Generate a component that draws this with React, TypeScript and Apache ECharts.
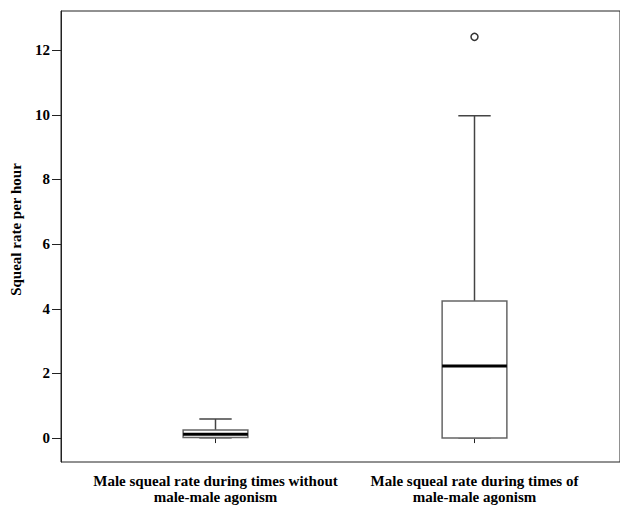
import React, { useEffect, useRef } from "react";
import * as echarts from "echarts";

const categories = [
  "Male squeal rate during times without\nmale-male agonism",
  "Male squeal rate during times of\nmale-male agonism",
];
const minValues = [0, 0];
const q1Values = [0.02, 0];
const medianValues = [0.12, 2.23];
const q3Values = [0.25, 4.24];
const maxValues = [0.59, 9.97];
const outliers: [number, number][] = [[1, 12.41]];
const yTicks = [0, 2, 4, 6, 8, 10, 12];
const yMin = -0.74;
const yMax = 13.21;

const FONT = "'Liberation Serif', 'Times New Roman', serif";

export default function App() {
  const ref = useRef<HTMLDivElement>(null);
  useEffect(() => {
    if (!ref.current) return;
    const chart = echarts.init(ref.current, null, { renderer: "svg" });
    const boxData = categories.map((_, i) => [
      i,
      minValues[i],
      q1Values[i],
      medianValues[i],
      q3Values[i],
      maxValues[i],
    ]);
    chart.setOption({
      animation: false,
      backgroundColor: "#ffffff",
      grid: [
        {
          left: 57,
          right: -3,
          top: 11,
          bottom: 44,
          show: true,
          borderColor: "#222",
          borderWidth: 1,
          backgroundColor: "transparent",
        },
        { left: 86, right: 16, top: 11, bottom: 44 },
      ],
      xAxis: [
        { type: "value", gridIndex: 0, show: false, min: 0, max: 1 },
        {
          type: "category",
          gridIndex: 1,
          data: categories,
          axisLine: { show: false },
          axisTick: {
            show: true,
            alignWithLabel: true,
            length: 5,
            lineStyle: { color: "#222", width: 1 },
          },
          axisLabel: {
            margin: 11,
            color: "#000",
            fontFamily: FONT,
            fontWeight: "bold",
            fontSize: 15,
            lineHeight: 16,
            interval: 0,
          },
          splitLine: { show: false },
        },
      ],
      yAxis: [
        {
          type: "value",
          gridIndex: 0,
          min: yMin,
          max: yMax,
          name: "Squeal rate per hour",
          nameLocation: "middle",
          nameGap: 38,
          nameTextStyle: {
            color: "#000",
            fontFamily: FONT,
            fontWeight: "bold",
            fontSize: 15,
            padding: [0, 0, 0, 14],
          },
          axisLine: { show: true, lineStyle: { color: "#222", width: 1 } },
          axisTick: {
            show: true,
            length: 9,
            customValues: yTicks,
            lineStyle: { color: "#222", width: 1 },
          },
          axisLabel: {
            customValues: yTicks,
            margin: 11,
            color: "#000",
            fontFamily: FONT,
            fontWeight: "bold",
            fontSize: 15,
          },
          splitLine: { show: false },
        },
        { type: "value", gridIndex: 1, min: yMin, max: yMax, show: false },
      ],
      series: [
        {
          type: "custom",
          xAxisIndex: 1,
          yAxisIndex: 1,
          data: boxData,
          encode: { x: 0, y: [1, 2, 3, 4, 5] },
          renderItem: (params: any, api: any) => {
            const i = api.value(0);
            const band = api.size([1, 0])[0];
            const bw = band * 0.25;
            const cw = bw / 2;
            const c = api.coord([i, api.value(1)]);
            const cx = c[0];
            const yMinP = c[1];
            const yQ1 = api.coord([i, api.value(2)])[1];
            const yMed = api.coord([i, api.value(3)])[1];
            const yQ3 = api.coord([i, api.value(4)])[1];
            const yMaxP = api.coord([i, api.value(5)])[1];
            const whisker = { stroke: "#444", lineWidth: 1.5 };
            return {
              type: "group",
              children: [
                { type: "line", shape: { x1: cx, y1: yQ3, x2: cx, y2: yMaxP }, style: whisker },
                { type: "line", shape: { x1: cx, y1: yQ1, x2: cx, y2: yMinP }, style: whisker },
                { type: "line", shape: { x1: cx - cw / 2, y1: yMaxP, x2: cx + cw / 2, y2: yMaxP }, style: whisker },
                { type: "line", shape: { x1: cx - cw / 2, y1: yMinP, x2: cx + cw / 2, y2: yMinP }, style: { stroke: "#777", lineWidth: 1.5 } },
                {
                  type: "rect",
                  shape: { x: cx - bw / 2, y: yQ3, width: bw, height: yQ1 - yQ3 },
                  style: { fill: "#fff", stroke: "#666", lineWidth: 1.5 },
                },
                { type: "line", shape: { x1: cx - bw / 2, y1: yMed, x2: cx + bw / 2, y2: yMed }, style: { stroke: "#000", lineWidth: 3 } },
              ],
            };
          },
          z: 2,
        },
        {
          type: "scatter",
          xAxisIndex: 1,
          yAxisIndex: 1,
          data: outliers,
          symbol: "circle",
          symbolSize: 7,
          itemStyle: { color: "#fff", borderColor: "#333", borderWidth: 1.5, opacity: 1 },
          z: 3,
        },
      ],
    });
    return () => chart.dispose();
  }, []);
  return (
    <div
      ref={ref}
      style={{ position: "fixed", left: 0, top: 0, width: 620, height: 506 }}
    />
  );
}
